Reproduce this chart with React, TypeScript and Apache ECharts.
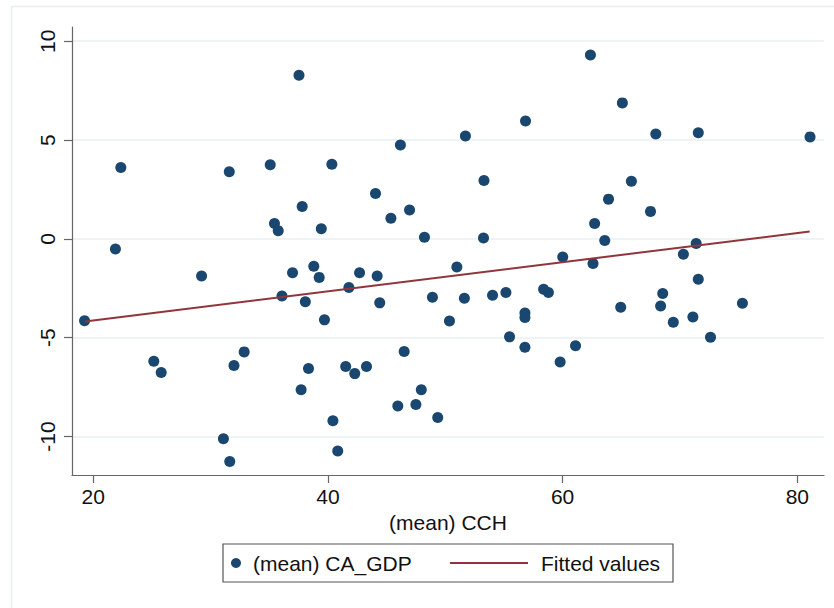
import React, { useEffect, useRef } from "react";
import * as echarts from "echarts";

// (mean) CCH values (x) and (mean) CA_GDP values (y)
const cchValues = [
  19.27, 21.9, 22.36, 25.17, 25.8, 29.24, 31.1, 31.6, 31.64, 32.0,
  32.87, 35.09, 35.45, 35.77, 36.09, 36.99, 37.54, 37.72, 37.81, 38.08,
  38.35, 38.8, 39.26, 39.44, 39.71, 40.34, 40.43, 40.84, 41.52, 41.79,
  42.29, 42.7, 43.29, 44.06, 44.2, 44.42, 45.37, 45.96, 46.18, 46.5,
  46.96, 47.5, 47.96, 48.23, 48.91, 49.36, 50.36, 50.99, 51.63, 51.72,
  53.26, 53.3, 54.03, 55.17, 55.48, 56.79, 56.79, 56.79, 56.84, 58.38,
  58.79, 59.79, 60.01, 61.1, 62.37, 62.59, 62.73, 63.59, 63.91, 64.95,
  65.09, 65.86, 67.49, 67.94, 68.35, 68.53, 69.43, 70.29, 71.1, 71.38,
  71.56, 71.56, 72.6, 75.32, 81.08,
];
const caGdpValues = [
  -4.14, -0.51, 3.61, -6.19, -6.76, -1.88, -10.12, 3.4, -11.27, -6.41,
  -5.72, 3.75, 0.78, 0.41, -2.89, -1.72, 8.28, -7.64, 1.64, -3.18,
  -6.56, -1.39, -1.95, 0.51, -4.1, 3.77, -9.2, -10.74, -6.46, -2.46,
  -6.82, -1.72, -6.46, 2.3, -1.88, -3.24, 1.04, -8.46, 4.75, -5.7,
  1.46, -8.38, -7.64, 0.08, -2.95, -9.04, -4.16, -1.43, -3.01, 5.2,
  0.04, 2.95, -2.85, -2.71, -4.96, -3.75, -3.98, -5.49, 5.96, -2.55,
  -2.71, -6.23, -0.92, -5.41, 9.3, -1.25, 0.78, -0.08, 2.01, -3.46,
  6.88, 2.91, 1.39, 5.31, -3.4, -2.77, -4.22, -0.78, -3.95, -0.23,
  5.37, -2.05, -4.98, -3.26, 5.16,
];
// Fitted values line endpoints
const fitX = [19.3, 81.05];
const fitY = [-4.18, 0.37];
const xTicks = [20, 40, 60, 80];
const yTicks = [-10, -5, 0, 5, 10];

const FONT = "'Liberation Sans', Arial, Helvetica, sans-serif";
const NAVY = "#1a476f";
const MAROON = "#90353b";
const AXIS = "#666666";
const GRID = "#e9f1f3";

export default function App() {
  const ref = useRef<HTMLDivElement>(null);
  useEffect(() => {
    if (!ref.current) return;
    const chart = echarts.init(ref.current, undefined, { renderer: "svg" });
    const scatterData = cchValues.map((x, i) => [x, caGdpValues[i]]);
    const fitData = fitX.map((x, i) => [x, fitY[i]]);
    chart.setOption({
      animation: false,
      backgroundColor: "#ffffff",
      grid: { left: 72, right: 10, top: 27, bottom: 133 },
      xAxis: {
        type: "value",
        min: 18.2,
        max: 82.27,
        name: "(mean) CCH",
        nameLocation: "middle",
        nameGap: 31,
        nameTextStyle: { fontFamily: FONT, fontSize: 21, color: "#111" },
        axisLine: { show: true, onZero: false, lineStyle: { color: AXIS, width: 1.2 } },
        axisTick: { show: true, length: 8, customValues: xTicks, lineStyle: { color: AXIS, width: 1.2 } },
        axisLabel: { customValues: xTicks, fontFamily: FONT, fontSize: 21, color: "#111", margin: 11 },
        splitLine: { show: false },
      },
      yAxis: {
        type: "value",
        min: -11.95,
        max: 10.72,
        axisLine: { show: true, onZero: false, lineStyle: { color: AXIS, width: 1.2 } },
        axisTick: { show: true, length: 8, customValues: yTicks, lineStyle: { color: AXIS, width: 1.2 } },
        axisLabel: {
          customValues: yTicks,
          rotate: 90,
          fontFamily: FONT,
          fontSize: 21,
          color: "#111",
          margin: 14,
        },
        splitLine: { show: true, lineStyle: { color: GRID, width: 1.5 } },
      },
      legend: [
        {
          data: [{ name: "(mean) CA_GDP", icon: "circle" }],
          left: 231,
          top: 551,
          padding: 0,
          itemWidth: 18,
          itemHeight: 10,
          selectedMode: false,
          textStyle: { fontFamily: FONT, fontSize: 21, color: "#111", lineHeight: 24, padding: [0, 0, 0, 3] },
        },
        {
          data: [{ name: "Fitted values", icon: "rect" }],
          left: 450,
          top: 551,
          padding: 0,
          itemWidth: 78,
          itemHeight: 2,
          selectedMode: false,
          textStyle: { fontFamily: FONT, fontSize: 21, color: "#111", lineHeight: 24, padding: [0, 0, 0, 8] },
        },
      ],
      graphic: [
        {
          type: "polyline",
          silent: true,
          shape: { points: [[11.5, 608], [11.5, 6.5], [834, 6.5]] },
          style: { stroke: "#e6eeee", lineWidth: 1.5, fill: null },
        },
        {
          type: "rect",
          silent: true,
          shape: { x: 223, y: 544, width: 450, height: 38 },
          style: { stroke: "#555", lineWidth: 1.2, fill: null },
        },
      ],
      series: [
        {
          name: "(mean) CA_GDP",
          type: "scatter",
          data: scatterData,
          symbol: "circle",
          symbolSize: 11,
          itemStyle: { color: NAVY, opacity: 1 },
          z: 3,
        },
        {
          name: "Fitted values",
          type: "line",
          data: fitData,
          symbol: "none",
          lineStyle: { color: MAROON, width: 2 },
          itemStyle: { color: MAROON },
          z: 4,
        },
      ],
    });
    return () => chart.dispose();
  }, []);
  return (
    <div
      ref={ref}
      style={{ position: "absolute", left: 0, top: 0, width: 834, height: 608, background: "#fff" }}
    />
  );
}
